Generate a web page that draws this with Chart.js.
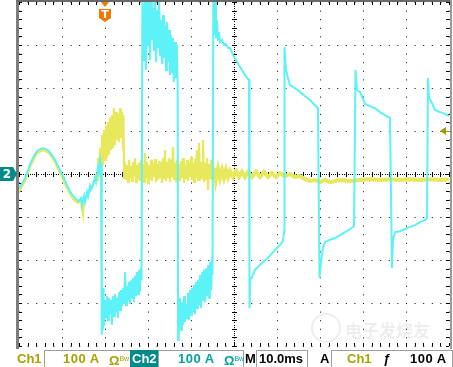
<!DOCTYPE html>
<html>
<head>
<meta charset="utf-8">
<script src="https://cdn.jsdelivr.net/npm/chart.js@4.4.0/dist/chart.umd.min.js"></script>
<style>
  body { margin: 0; background: #fff; }
  #wrap { position: relative; width: 453px; height: 367px; overflow: hidden; font-family: "Liberation Sans", Arial, sans-serif; }
  #scope { position: absolute; left: 0; top: 0; }
  .s { position: absolute; top: 350px; height: 17px; line-height: 17px; font-size: 13px; font-weight: bold; white-space: nowrap; box-sizing: border-box; }
  .box { border: 1px solid #a0a0a0; border-bottom: none; }
  .olive { color: #a9a100; }
  .teal { color: #00a3a3; }
  .bw { font-size: 7px; font-weight: normal; vertical-align: 4px; }
</style>
</head>
<body>
<div id="wrap">
  <canvas id="scope" width="453" height="367"></canvas>
  <div class="s olive" style="left:17px">Ch1</div>
  <div class="s box" style="left:44px;width:87px"></div>
  <div class="s olive" style="left:63px;letter-spacing:0.5px">100 A</div>
  <div class="s olive" style="left:109px">Ω<span class="bw">Bw</span></div>
  <div class="s" style="left:130px;width:28px;background:#008b8b;color:#fff;padding-left:2px">Ch2</div>
  <div class="s box" style="left:158px;width:86px"></div>
  <div class="s teal" style="left:178px;letter-spacing:0.5px">100 A</div>
  <div class="s teal" style="left:224px">Ω<span class="bw">Bw</span></div>
  <div class="s" style="left:245px;color:#000">M</div>
  <div class="s box" style="left:256px;width:52px"></div>
  <div class="s" style="left:259px;color:#000">10.0ms</div>
  <div class="s" style="left:320px;color:#000">A</div>
  <div class="s box" style="left:331px;width:122px"></div>
  <div class="s olive" style="left:347px">Ch1</div>
  <div class="s" style="left:383px;color:#000;font-style:italic">ƒ</div>
  <div class="s" style="left:410px;color:#000;letter-spacing:0.5px">100 A</div>
</div>
<script>
// time in ms (trigger at 0), current in A (100 A/div)
const ch2Sine = [[-20.0,-33],[-19.3,-23],[-18.6,-9],[-17.91,9],[-17.21,28],[-16.51,42],[-15.81,53],[-15.12,58],[-14.42,60],[-13.72,58],[-13.02,53],[-12.33,44],[-11.63,33],[-10.93,19],[-10.23,5],[-9.53,-9],[-8.84,-26],[-8.14,-40],[-7.44,-51],[-6.74,-58],[-6.05,-63],[-5.58,-56],[-5.35,-70],[-4.88,-51],[-4.65,-65],[-4.19,-42],[-3.95,-53],[-3.49,-28],[-3.26,-37],[-2.79,-26],[-2.33,-9],[-2.09,-19],[-1.63,14],[-1.4,5],[-1.16,33],[-0.93,21]];

const ch2Burst = [[-0.8,-374],[-0.7,-293],[-0.5,-363],[-0.35,-265],[-0.2,-353],[0.0,-293],[0.2,-335],[0.5,-284],[0.7,-340],[0.9,-288],[1.2,-326],[1.4,-293],[1.6,-351],[1.9,-284],[2.1,-330],[2.3,-279],[2.6,-321],[2.8,-288],[3.0,-335],[3.3,-274],[3.5,-316],[3.7,-270],[4.0,-307],[4.2,-265],[4.4,-302],[4.7,-228],[4.9,-305],[5.1,-260],[5.3,-293],[5.6,-251],[5.8,-302],[6.0,-247],[6.3,-288],[6.5,-242],[6.7,-298],[7.0,-237],[7.2,-284],[7.4,-228],[7.7,-279],[7.9,-223],[8.1,-274],[8.4,-219],[8.5,-247],
  [8.7,430],[9.1,265],[9.3,410],[9.5,242],[9.8,420],[10.0,300],[10.2,410],[10.5,265],[10.7,420],[10.9,312],[11.2,386],[11.4,288],[11.6,420],[11.9,260],[12.1,381],[12.3,293],[12.6,405],[12.8,277],[13.0,358],[13.3,256],[13.5,370],[13.7,270],[14.0,347],[14.2,242],[14.4,353],[14.7,260],[14.9,335],[15.1,230],[15.3,323],[15.6,237],[15.8,316],[16.0,214],[16.3,307],[16.5,223],[16.7,300],[16.9,207],
  [17.0,-386],[17.1,-293],[17.2,-374],[17.4,-288],[17.7,-363],[17.9,-298],[18.1,-351],[18.4,-284],[18.6,-344],[18.8,-302],[19.1,-335],[19.3,-277],[19.5,-340],[19.8,-270],[20.0,-328],[20.2,-265],[20.5,-321],[20.7,-258],[20.9,-326],[21.2,-251],[21.4,-312],[21.6,-247],[21.9,-305],[22.1,-235],[22.3,-312],[22.6,-228],[22.8,-293],[23.0,-223],[23.3,-298],[23.5,-219],[23.7,-284],[24.0,-212],[24.2,-288],[24.4,-205],[24.7,-270],[24.9,-195],[25.0,-235]];

const ch2Pulses = [[25.2,430],[25.47,410],[25.58,323],[25.7,400],[25.81,316],[26.05,358],[26.28,312],[26.51,330],[26.74,307],[27.21,312],[27.67,300],[28.14,302],[28.6,293],[29.07,293],[29.77,277],[30.47,265],[31.16,253],[31.86,242],[32.56,230],[33.26,221],[33.49,219],
  [33.6,-312],[33.8,-245],[34.19,-240],[34.88,-223],[35.58,-216],[36.51,-207],[37.91,-195],[39.53,-177],[40.7,-165],[41.4,-156],[41.63,-135],
  [41.74,295],[42.09,242],[42.56,223],[43.02,207],[44.19,200],[45.35,191],[46.51,181],[47.67,172],[48.84,160],[49.53,153],
  [49.88,-242],[50.23,-205],[50.7,-172],[51.16,-158],[52.33,-153],[53.49,-149],[54.65,-142],[55.81,-135],[56.98,-128],[57.91,-121],
  [58.26,242],[58.6,195],[59.3,191],[60.47,163],[61.63,158],[62.79,153],[63.95,144],[65.12,137],[66.28,130],
  [66.74,-219],[66.98,-153],[67.44,-135],[68.6,-133],[69.77,-128],[70.93,-123],[72.09,-119],[73.26,-112],[74.42,-107],[74.88,-102],
  [75.12,223],[75.35,177],[76.05,165],[76.74,149],[77.91,144],[79.07,140],[80.0,135]];

const ch1Sine = [[-20.0,-42],[-18.6,-16],[-17.21,21],[-15.81,49],[-14.42,56],[-13.02,49],[-11.63,28],[-10.23,-2],[-8.84,-33],[-7.44,-58],[-6.28,-67],[-5.58,-63],[-5.12,-93],[-4.88,-58],[-4.19,-51],[-3.49,-37],[-2.79,-23],[-2.33,-9],[-2.09,-5]];

const ch1Burst = [[-1.86,-14],[-1.63,37],[-1.4,-9],[-1.16,60],[-0.93,9],[-0.7,91],[-0.47,21],[-0.23,102],[0.0,33],[0.23,112],[0.47,37],[0.7,121],[0.93,44],[1.16,130],[1.4,56],[1.63,137],[1.86,60],[2.09,153],[2.33,67],[2.56,144],[2.79,79],[3.02,140],[3.26,74],[3.49,153],[3.72,84],[3.95,144],[4.19,60],[4.3,137],
  [4.42,-9],[4.65,28],[4.88,-14],[5.12,21],[5.35,-19],[5.58,33],[5.81,-9],[6.05,19],[6.28,-16],[6.51,28],[6.74,-5],[6.98,37],[7.21,-19],[7.44,21],[7.67,-12],[7.91,26],[8.14,-14],[8.37,33],[8.6,-9],[8.84,23],[9.07,-19],[9.3,49],[9.53,-9],[9.77,28],[10.0,-21],[10.23,21],[10.47,-12],[10.7,33],[10.93,-16],[11.16,26],[11.4,-7],[11.63,35],[11.86,-19],[12.09,23],[12.33,-14],[12.56,30],[12.79,-9],[13.02,26],[13.26,-21],[13.49,37],[13.72,-12],[13.95,56],[14.19,-16],[14.42,28],[14.65,-9],[14.88,37],[15.12,-19],[15.35,33],[15.58,-7],[15.81,63],[16.05,-14],[16.28,26],[16.51,-19],[16.74,33],[16.98,-12],[17.21,23],[17.44,-16],[17.67,30],[17.91,-9],[18.14,37],[18.37,-21],[18.6,21],[18.84,-12],[19.07,33],[19.3,-16],[19.53,28],[19.77,-7],[20.0,40],[20.23,-14],[20.47,26],[20.7,-19],[20.93,35],[21.16,-9],[21.4,56],[21.63,-14],[21.86,72],[22.09,-16],[22.33,28],[22.56,-9],[22.79,79],[23.02,-19],[23.26,26],[23.49,-12],[23.72,37],[23.95,-37],[24.19,23],[24.42,-9],[24.65,33],[24.88,-14],[25.12,21],[25.35,-14]];

const ch1Tail = [[25.58,14],[25.81,-12],[26.28,12],[26.74,-9],[27.21,9],[27.67,-9],[28.14,9],[28.6,-7],[29.07,7],[29.77,-7],[30.47,7],[31.16,-7],[31.86,5],[32.56,-7],[33.26,5],[34.19,-7],[35.12,5],[36.05,-7],[36.98,5],[37.91,-7],[38.84,2],[39.77,-7],[40.7,2],[41.86,-5],[43.02,0],[44.19,-7],[45.35,-5],[46.51,-12],[47.67,-16],[48.84,-14],[50.0,-19],[51.16,-14],[52.33,-19],[54.65,-14],[56.98,-16],[59.3,-14],[61.63,-12],[63.95,-14],[66.28,-12],[68.6,-14],[70.93,-12],[73.26,-14],[75.58,-12],[77.91,-14],[80.0,-12]];

const timeRange = [-20, 80];     // 10 ms/div
const ampRange = [-400, 400];    // 100 A/div
const triggerLevel = 100;

const toXY = pts => pts.map(p => ({ x: p[0], y: p[1] }));
const ch2Data = toXY(ch2Sine.concat(ch2Burst, ch2Pulses));
const ch1Data = toXY(ch1Sine.concat(ch1Burst, ch1Tail));

const scopeDecor = {
  id: 'scopeDecor',
  beforeDatasetsDraw(chart) {
    const { ctx, chartArea: a, scales: { x, y } } = chart;
    const cx = Math.round(x.getPixelForValue(30));
    const cy = Math.round(y.getPixelForValue(0));
    const sx = (a.right - a.left) / 50, sy = (a.bottom - a.top) / 40;
    ctx.save();
    ctx.fillStyle = '#000';
    for (let i = 0; i <= 200; i++) {
      ctx.fillRect(Math.round(a.left + i * sx / 4), cy, 1, 1);
    }
    for (let i = 0; i <= 160; i++) {
      ctx.fillRect(cx, Math.round(a.top + i * sy / 4), 1, 1);
    }
    for (let i = 0; i <= 50; i++) {
      const px = Math.round(a.left + i * sx);
      ctx.fillRect(px, cy - 2, 1, 5);
      ctx.fillRect(px, a.top, 1, 3);
      ctx.fillRect(px, a.bottom - 3, 1, 3);
    }
    for (let i = 0; i <= 40; i++) {
      const py = Math.round(a.top + i * sy);
      ctx.fillRect(cx - 2, py, 5, 1);
      ctx.fillRect(a.left, py, 3, 1);
      ctx.fillRect(a.right - 3, py, 3, 1);
    }
    ctx.restore();
  },
  afterDatasetsDraw(chart) {
    const { ctx, chartArea: a, scales: { x, y } } = chart;
    ctx.save();
    // frame
    ctx.fillStyle = '#7d7d7d';
    ctx.fillRect(a.left - 3, 0, 3, a.bottom + 3);
    ctx.fillStyle = '#6a6a6a';
    ctx.fillRect(a.left - 3, 0, a.right - a.left + 6, 2);
    ctx.fillStyle = '#9a9a9a';
    ctx.fillRect(a.right + 1, 0, 2, a.bottom + 3);

    // watermark
    ctx.fillStyle = 'rgba(0,0,0,0.07)';
    ctx.font = 'bold 17px "Noto Sans CJK SC"';
    ctx.textBaseline = 'middle';
    ctx.fillText('电子发烧友', 345, 331);
    ctx.strokeStyle = 'rgba(0,0,0,0.07)';
    ctx.lineWidth = 2;
    ctx.beginPath();
    ctx.arc(326, 328, 14, 0, Math.PI * 2);
    ctx.stroke();

    // trigger position marker
    const tx = Math.round(x.getPixelForValue(0));
    ctx.fillStyle = '#f07800';
    ctx.beginPath();
    ctx.moveTo(tx - 4, 2); ctx.lineTo(tx + 4, 2); ctx.lineTo(tx, 7); ctx.closePath();
    ctx.fill();
    ctx.beginPath();
    ctx.moveTo(tx - 6, 9); ctx.lineTo(tx + 6, 9); ctx.lineTo(tx + 6, 18);
    ctx.lineTo(tx, 22); ctx.lineTo(tx - 6, 18); ctx.closePath();
    ctx.fill();
    ctx.fillStyle = '#fff';
    ctx.font = 'bold 11px "DejaVu Sans"';
    ctx.textAlign = 'center';
    ctx.fillText('T', tx, 15);

    // channel 2 ground marker
    const gy = Math.round(y.getPixelForValue(0));
    ctx.fillStyle = '#008b8b';
    ctx.beginPath();
    ctx.moveTo(0, gy - 7); ctx.lineTo(13, gy - 7); ctx.lineTo(17, gy);
    ctx.lineTo(13, gy + 7); ctx.lineTo(0, gy + 7); ctx.closePath();
    ctx.fill();
    ctx.fillStyle = '#fff';
    ctx.font = 'bold 12px "DejaVu Sans"';
    ctx.fillText('2', 7, gy + 1);

    // trigger level marker
    const ly = Math.round(y.getPixelForValue(triggerLevel));
    ctx.fillStyle = '#a09800';
    ctx.beginPath();
    ctx.moveTo(a.right - 9, ly); ctx.lineTo(a.right - 3, ly - 4); ctx.lineTo(a.right - 3, ly + 4); ctx.closePath();
    ctx.fill();
    ctx.fillRect(a.right - 4, ly, 6, 1);
    ctx.restore();
  }
};

const gridOpts = { color: '#000', lineWidth: 1, drawTicks: false };
const borderOpts = { display: false, dash: [1, 7.6] };

new Chart(document.getElementById('scope'), {
  type: 'line',
  data: {
    datasets: [
      { label: 'Ch2', data: ch2Data, borderColor: '#5cf2f7', borderWidth: 2, pointRadius: 0, tension: 0 },
      {
        label: 'Ch1', data: ch1Data, borderColor: '#e8e85c', borderWidth: 2.2, pointRadius: 0, tension: 0,
        segment: { borderWidth: c => (c.p0.parsed.x > 25.3 ? 4 : undefined) }
      }
    ]
  },
  options: {
    responsive: false,
    animation: false,
    layout: { padding: { left: 19, right: 4, top: 2, bottom: 21 } },
    plugins: { legend: { display: false }, tooltip: { enabled: false } },
    scales: {
      x: {
        type: 'linear', min: timeRange[0], max: timeRange[1],
        ticks: { display: false, stepSize: 10 },
        grid: gridOpts, border: borderOpts
      },
      y: {
        type: 'linear', min: ampRange[0], max: ampRange[1],
        ticks: { display: false, stepSize: 100 },
        grid: gridOpts, border: borderOpts
      }
    }
  },
  plugins: [scopeDecor]
});
</script>
</body>
</html>
